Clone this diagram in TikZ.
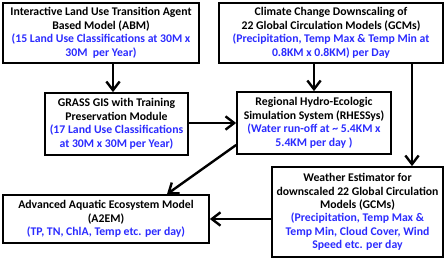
\documentclass[tikz,border=0pt]{standalone}
\usepackage{fontspec}
\setmainfont{Carlito}
\usetikzlibrary{arrows.meta, positioning, calc}
\definecolor{inkblue}{HTML}{2B2BFF}
\newcommand{\detail}[1]{\textcolor{inkblue}{#1}}
\newcommand{\boxfont}{\fontsize{8.8}{10.1}\selectfont\bfseries\lineskiplimit=-5pt\relax}

\begin{document}
\begin{tikzpicture}[x=0.75pt, y=-0.75pt, font=\boxfont,
  model/.style={draw, line width=1.3pt, align=center, inner sep=0pt},
  feed/.style={line width=1.8pt, -{Straight Barb[length=6.5pt, width=10pt, line width=1.8pt]}}]
  \useasboundingbox (0,0) rectangle (445,259);
  % boxes, placed by their centres
  \node[model, minimum width=147pt, minimum height=45pt] (abm) at (101,33)
    {Interactive Land Use Transition Agent\\Based Model (ABM)\\
     \detail{(15 Land Use Classifications at 30M x}\\\detail{30M\ \ per Year)}};
  \node[model, minimum width=168pt, minimum height=45pt] (gcm) at (331,33)
    {Climate Change Downscaling of\\22 Global Circulation Models (GCMs)\\
     \detail{(Precipitation, Temp Max \& Temp Min at}\\\detail{0.8KM x 0.8KM) per Day}};
  \node[model, minimum width=107.25pt, minimum height=46.5pt] (grass) at (116.5,124)
    {GRASS GIS with Training\\Preservation Module\\
     \detail{(17 Land Use Classifications}\\\detail{at 30M x 30M per Year)}};
  \node[model, minimum width=115.5pt, minimum height=46.5pt] (rhessys) at (314,123)
    {Regional Hydro-Ecologic\\Simulation System (RHESSys)\\
     \detail{(Water run-off at \textasciitilde{} 5.4KM x}\\\detail{5.4KM per day )}};
  \node[model, minimum width=128.25pt, minimum height=67.5pt] (weather) at (357.5,212)
    {Weather Estimator for\\downscaled 22 Global Circulation\\Models (GCMs)\\
     \detail{(Precipitation, Temp Max \&}\\\detail{Temp Min, Cloud Cover, Wind}\\
     \detail{Speed etc. per day}};
  \node[model, minimum width=154.5pt, minimum height=36pt] (aquatic) at (106,219)
    {Advanced Aquatic Ecosystem Model\\(A2EM)\\
     \detail{(TP, TN, ChlA, Temp etc. per day)}};
  % connectors
  \draw[feed] (abm.south -| 113,0) -- (grass.north -| 113,0);
  \draw[feed] (gcm.south -| rhessys.north) -- (rhessys.north);
  \draw[feed] (grass.east |- rhessys.west) -- (rhessys.west);
  \draw[feed] (rhessys.west |- 0,145) -- (aquatic.north -| 167,0);
  \draw[feed] (gcm.south -| 412,0) -- (weather.north -| 412,0);
  \draw[feed] (weather.west |- aquatic.east) -- (aquatic.east);
\end{tikzpicture}
\end{document}
